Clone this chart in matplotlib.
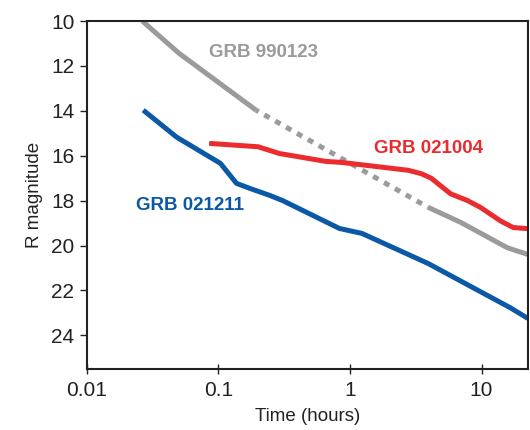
import matplotlib
matplotlib.use("Agg")
import matplotlib.pyplot as plt
from matplotlib.ticker import FixedLocator, NullLocator

plt.rcParams["font.family"] = ["Liberation Sans", "DejaVu Sans"]

# GRB 990123: early solid, dotted gap, late solid
t_990123_early = [0.0264, 0.050, 0.193]
m_990123_early = [10.0, 11.43, 13.97]
t_990123_gap = [0.193, 3.93]
m_990123_gap = [13.97, 18.3]
t_990123_late = [3.93, 6.95, 15.7, 22.5]
m_990123_late = [18.3, 18.97, 20.1, 20.4]

# GRB 021004
t_021004 = [0.085, 0.20, 0.29, 0.65, 0.87, 2.78, 3.48, 4.14, 5.83, 7.84, 9.8, 13.9, 17.4, 22.5]
m_021004 = [15.45, 15.6, 15.9, 16.25, 16.3, 16.65, 16.8, 17.0, 17.7, 18.0, 18.3, 18.9, 19.2, 19.25]

# GRB 021211
t_021211 = [0.0268, 0.0483, 0.1035, 0.137, 0.174, 0.246, 0.308, 0.83, 1.23, 3.92, 16.5, 22.5]
m_021211 = [13.97, 15.18, 16.34, 17.23, 17.46, 17.77, 18.0, 19.24, 19.46, 20.8, 22.77, 23.25]

x_ticks = [0.01, 0.1, 1, 10]
x_tick_labels = ["0.01", "0.1", "1", "10"]
y_ticks = [10, 12, 14, 16, 18, 20, 22, 24]

GRAY = "#9b9b9d"
RED = "#ec2b2f"
BLUE = "#0b58a6"

fig = plt.figure(figsize=(5.3, 4.3), dpi=100)
ax = fig.add_axes([0.164, 0.142, 0.832, 0.809])

lw = 3.6
ax.plot(t_990123_early, m_990123_early, color=GRAY, lw=lw, solid_capstyle="butt")
ax.plot(t_990123_gap, m_990123_gap, color=GRAY, lw=lw, linestyle=(0.6, (1.2, 1.3)),
        dash_capstyle="butt")
ax.plot(t_990123_late, m_990123_late, color=GRAY, lw=lw, solid_capstyle="butt")
ax.plot(t_021004, m_021004, color=RED, lw=lw, solid_capstyle="butt")
ax.plot(t_021211, m_021211, color=BLUE, lw=lw, solid_capstyle="butt")

ax.text(0.085, 11.38, "GRB 990123", color="#9a9a9c", fontsize=13.5, fontweight="bold",
        ha="left", va="center")
ax.text(1.52, 15.67, "GRB 021004", color=RED, fontsize=13.5, fontweight="bold",
        ha="left", va="center")
ax.text(0.0235, 18.2, "GRB 021211", color=BLUE, fontsize=13.5, fontweight="bold",
        ha="left", va="center")

ax.set_xscale("log")
ax.set_xlim(0.01, 22.5)
ax.set_ylim(25.5, 10)
ax.xaxis.set_major_locator(FixedLocator(x_ticks))
ax.xaxis.set_minor_locator(NullLocator())
ax.set_xticklabels(x_tick_labels)
ax.set_yticks(y_ticks)

for s in ax.spines.values():
    s.set_linewidth(1.5)
    s.set_color("#222222")
ax.tick_params(axis="both", labelsize=15, colors="#222222", width=1.0)
ax.tick_params(axis="x", direction="inout", length=7, pad=5)
ax.tick_params(axis="y", direction="out", length=5, pad=4)

ax.set_xlabel("Time (hours)", fontsize=13.5, color="#222222", labelpad=6)
ax.set_ylabel("R magnitude", fontsize=13.5, color="#222222", labelpad=6)

fig.savefig("out.png", dpi=100, facecolor="white")
